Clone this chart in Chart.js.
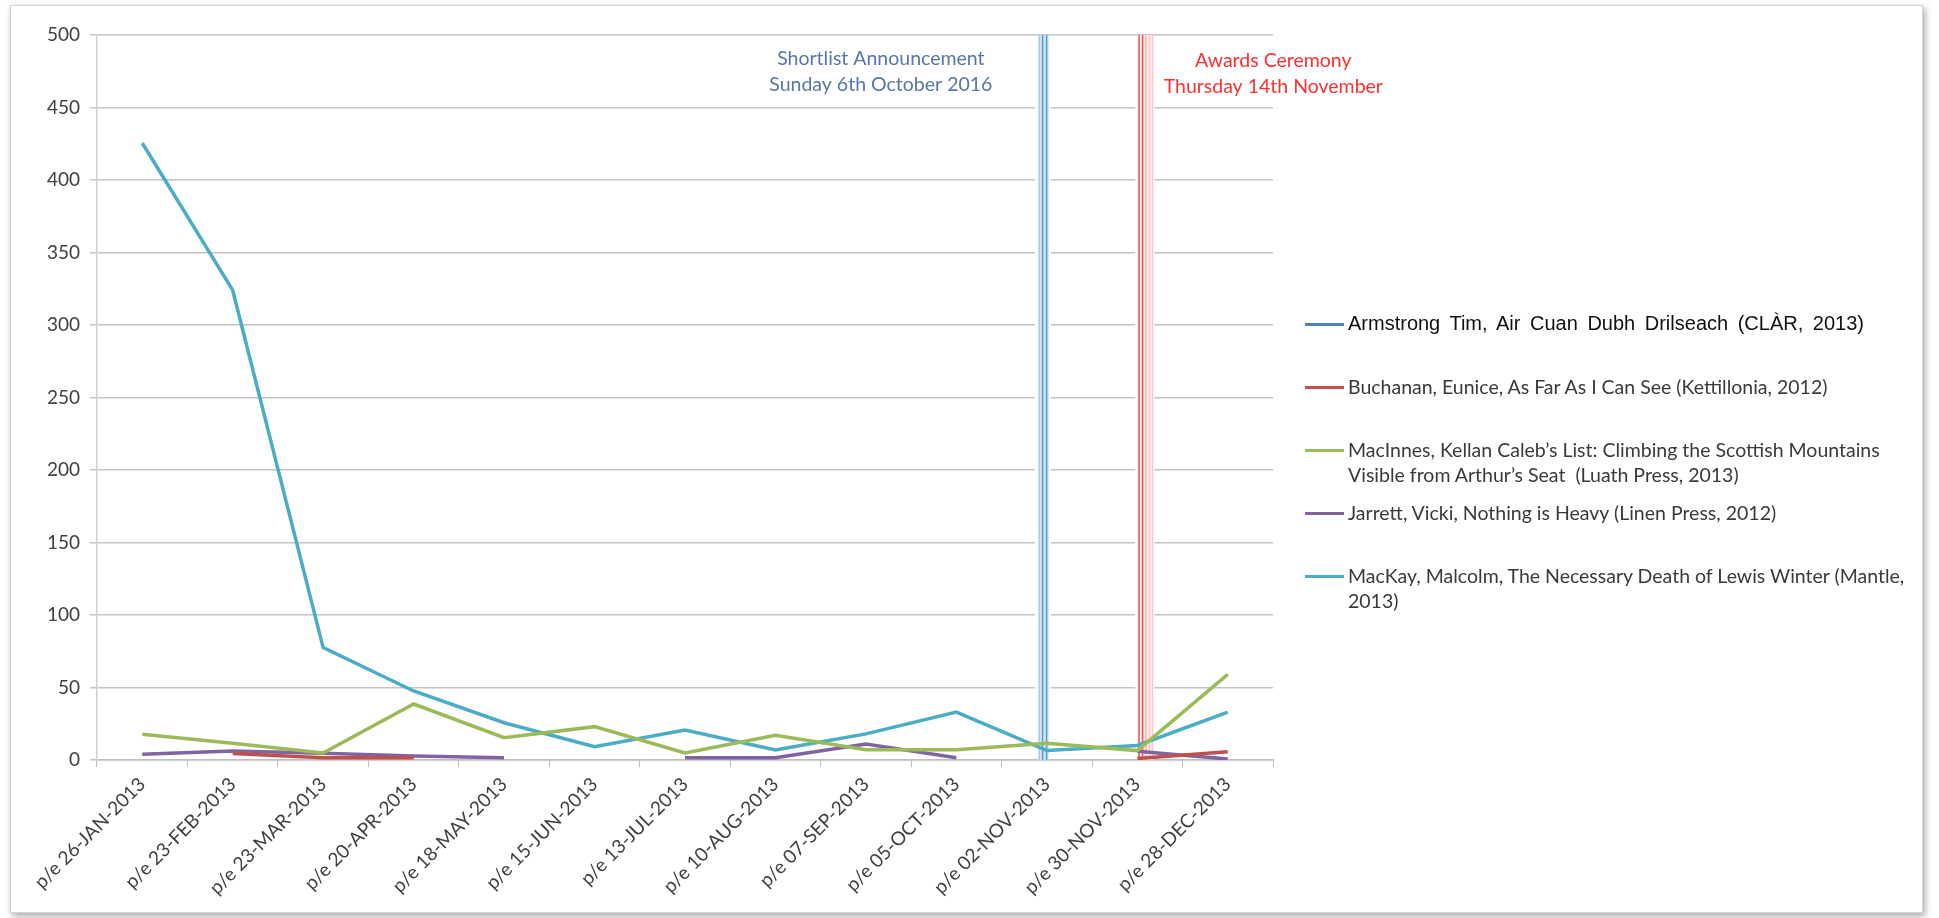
<!DOCTYPE html>
<html>
<head>
<meta charset="utf-8">
<script src="https://cdn.jsdelivr.net/npm/chart.js@4.4.1/dist/chart.umd.min.js"></script>
<style>
  html, body { margin: 0; padding: 0; background: #fff; }
  body { width: 1939px; height: 918px; position: relative; overflow: hidden; }
  #frame {
    position: absolute; left: 10px; top: 5px; width: 1911px; height: 906px;
    border: 1px solid #d4d4d4; box-shadow: 2px 3px 7px rgba(0,0,0,0.35);
    background: #fff;
  }
  #chart { position: absolute; left: 0; top: 0; }
  #legend { position: absolute; left: 0; top: 0; font-family: Lato, sans-serif; }
  .item { position: absolute; left: 1305px; display: flex; align-items: flex-start; }
  .swatch { width: 39px; height: 3px; margin-top: 12px; margin-right: 4px; }
  .label { font-size: 19.5px; line-height: 25px; color: #3a3a3a; white-space: pre; }
  .label.first { font-family: "Liberation Sans", Arial, sans-serif; font-size: 20px; color: #111; word-spacing: 4px; }
</style>
</head>
<body>
<div id="frame"></div>
<canvas id="chart" width="1939" height="918"></canvas>
<div id="legend"></div>
<script>
// categorias (periodo que termina)
const weeks = [
  'p/e 26-JAN-2013', 'p/e 23-FEB-2013', 'p/e 23-MAR-2013', 'p/e 20-APR-2013',
  'p/e 18-MAY-2013', 'p/e 15-JUN-2013', 'p/e 13-JUL-2013', 'p/e 10-AUG-2013',
  'p/e 07-SEP-2013', 'p/e 05-OCT-2013', 'p/e 02-NOV-2013', 'p/e 30-NOV-2013',
  'p/e 28-DEC-2013'
];

const armstrong = [null, null, null, null, null, null, null, null, null, null, null, null, null];
const buchanan  = [null, 4.4, 1.6, 1.6, null, null, null, null, null, null, null, 1, 5.7];
const macinnes  = [17.7, 11.5, 4.8, 38.6, 15.4, 23, 4.8, 17, 7, 7, 11.5, 6.5, 59];
const jarrett   = [3.9, 6.2, 4.6, 2.8, 1.6, null, 1.6, 1.6, 11, 1.6, null, 6, 0.7];
const mackay    = [425.5, 324, 77.5, 47.6, 25.7, 9.2, 20.7, 7, 18, 33, 6.5, 10, 33];

const seriesNames = [
  'Armstrong Tim, Air Cuan Dubh Drilseach (CLÀR, 2013)',
  'Buchanan, Eunice, As Far As I Can See (Kettillonia, 2012)',
  'MacInnes, Kellan Caleb’s List: Climbing the Scottish Mountains\nVisible from Arthur’s Seat  (Luath Press, 2013)',
  'Jarrett, Vicki, Nothing is Heavy (Linen Press, 2012)',
  'MacKay, Malcolm, The Necessary Death of Lewis Winter (Mantle,\n2013)'
];
const seriesColors = ['#4f81bd', '#c0504d', '#9bbb59', '#8064a2', '#4bacc6'];
const legendTops = [311, 374, 437, 500, 563];

// eventos marcados
const shortlistWeek = 'p/e 02-NOV-2013';
const ceremonyWeek = 'p/e 30-NOV-2013';
const shortlistText = ['Shortlist Announcement', 'Sunday 6th October 2016'];
const ceremonyText = ['Awards Ceremony', 'Thursday 14th November'];

const textColor = '#404040';
const font = { family: 'Lato, sans-serif', size: 19 };

// lineas verticales de eventos + textos
const eventLines = {
  id: 'eventLines',
  beforeDatasetsDraw(chart) {
    const { ctx, chartArea: a, scales: { x } } = chart;
    const bx = x.getPixelForValue(x.getLabels().indexOf(shortlistWeek)) - 4;
    const rx = x.getPixelForValue(x.getLabels().indexOf(ceremonyWeek));
    const h = a.bottom - a.top;
    ctx.save();
    // hueco en las lineas de rejilla
    ctx.fillStyle = '#fff';
    ctx.fillRect(bx - 8, a.top + 1, 16, h - 2);
    ctx.fillRect(rx - 2, a.top + 1, 19, h - 2);
    // azul
    ctx.fillStyle = '#d3e5f6';
    ctx.fillRect(bx - 5, a.top, 11, h);
    ctx.fillStyle = '#a9cbec';
    ctx.fillRect(bx - 4, a.top, 1.2, h);
    ctx.fillStyle = '#5b9bd5';
    ctx.fillRect(bx - 1, a.top, 1.5, h);
    ctx.fillRect(bx + 3, a.top, 1.5, h);
    // rojo
    ctx.fillStyle = '#ffecec';
    ctx.fillRect(rx, a.top, 16, h);
    ctx.fillStyle = '#f25050';
    ctx.fillRect(rx + 1, a.top, 1.5, h);
    ctx.fillRect(rx + 4.5, a.top, 1.5, h);
    ctx.fillStyle = '#ffa8a8';
    ctx.fillRect(rx + 8, a.top, 1.3, h);
    ctx.fillStyle = '#ffc4c4';
    ctx.fillRect(rx + 11.5, a.top, 1.3, h);
    ctx.fillRect(rx + 14.5, a.top, 1.3, h);
    ctx.restore();
  },
  afterDraw(chart) {
    const { ctx, chartArea: a, scales: { x } } = chart;
    const bx = x.getPixelForValue(x.getLabels().indexOf(shortlistWeek));
    const rx = x.getPixelForValue(x.getLabels().indexOf(ceremonyWeek));
    ctx.save();
    ctx.font = '19.5px Lato, sans-serif';
    ctx.textAlign = 'center';
    ctx.textBaseline = 'middle';
    ctx.fillStyle = '#5677a8';
    shortlistText.forEach((t, i) => ctx.fillText(t, bx - 166, a.top + 24 + i * 26));
    ctx.fillStyle = '#ff3030';
    ceremonyText.forEach((t, i) => ctx.fillText(t, rx + 136, a.top + 26 + i * 26));
    ctx.restore();
  }
};

const datasets = [armstrong, buchanan, macinnes, jarrett, mackay].map((d, i) => ({
  label: seriesNames[i],
  data: d,
  borderColor: seriesColors[i],
  backgroundColor: seriesColors[i],
  borderWidth: 3.5,
  pointRadius: 0,
  tension: 0
}));

new Chart(document.getElementById('chart'), {
  type: 'line',
  data: { labels: weeks, datasets: datasets },
  options: {
    responsive: false,
    devicePixelRatio: 1,
    animation: false,
    layout: { padding: { left: 20, top: 35, right: 666, bottom: 0 } },
    plugins: {
      legend: { display: false },
      tooltip: { enabled: false }
    },
    scales: {
      x: {
        offset: true,
        afterFit(scale) { scale.height = 158; },
        grid: { offset: true, drawOnChartArea: false, drawTicks: true, tickLength: 7, color: '#bfbfbf' },
        border: { color: '#bfbfbf', width: 1.5 },
        ticks: { color: textColor, font: font, minRotation: 45, maxRotation: 45, padding: 6, autoSkip: false }
      },
      y: {
        min: 0,
        max: 500,
        afterFit(scale) { scale.width = 77; },
        grid: { color: '#c4c4c4', lineWidth: 1.5, tickLength: 7 },
        border: { color: '#d0d0d0', width: 1.5 },
        ticks: { stepSize: 50, color: textColor, font: font, padding: 10 }
      }
    }
  },
  plugins: [eventLines]
});

// leyenda HTML (texto con saltos de linea)
const legendBox = document.getElementById('legend');
seriesNames.forEach((name, i) => {
  const item = document.createElement('div');
  item.className = 'item';
  item.style.top = legendTops[i] + 'px';
  const sw = document.createElement('div');
  sw.className = 'swatch';
  sw.style.background = seriesColors[i];
  const lb = document.createElement('div');
  lb.className = 'label' + (i === 0 ? ' first' : '');
  lb.textContent = name;
  item.appendChild(sw);
  item.appendChild(lb);
  legendBox.appendChild(item);
});
</script>
</body>
</html>
